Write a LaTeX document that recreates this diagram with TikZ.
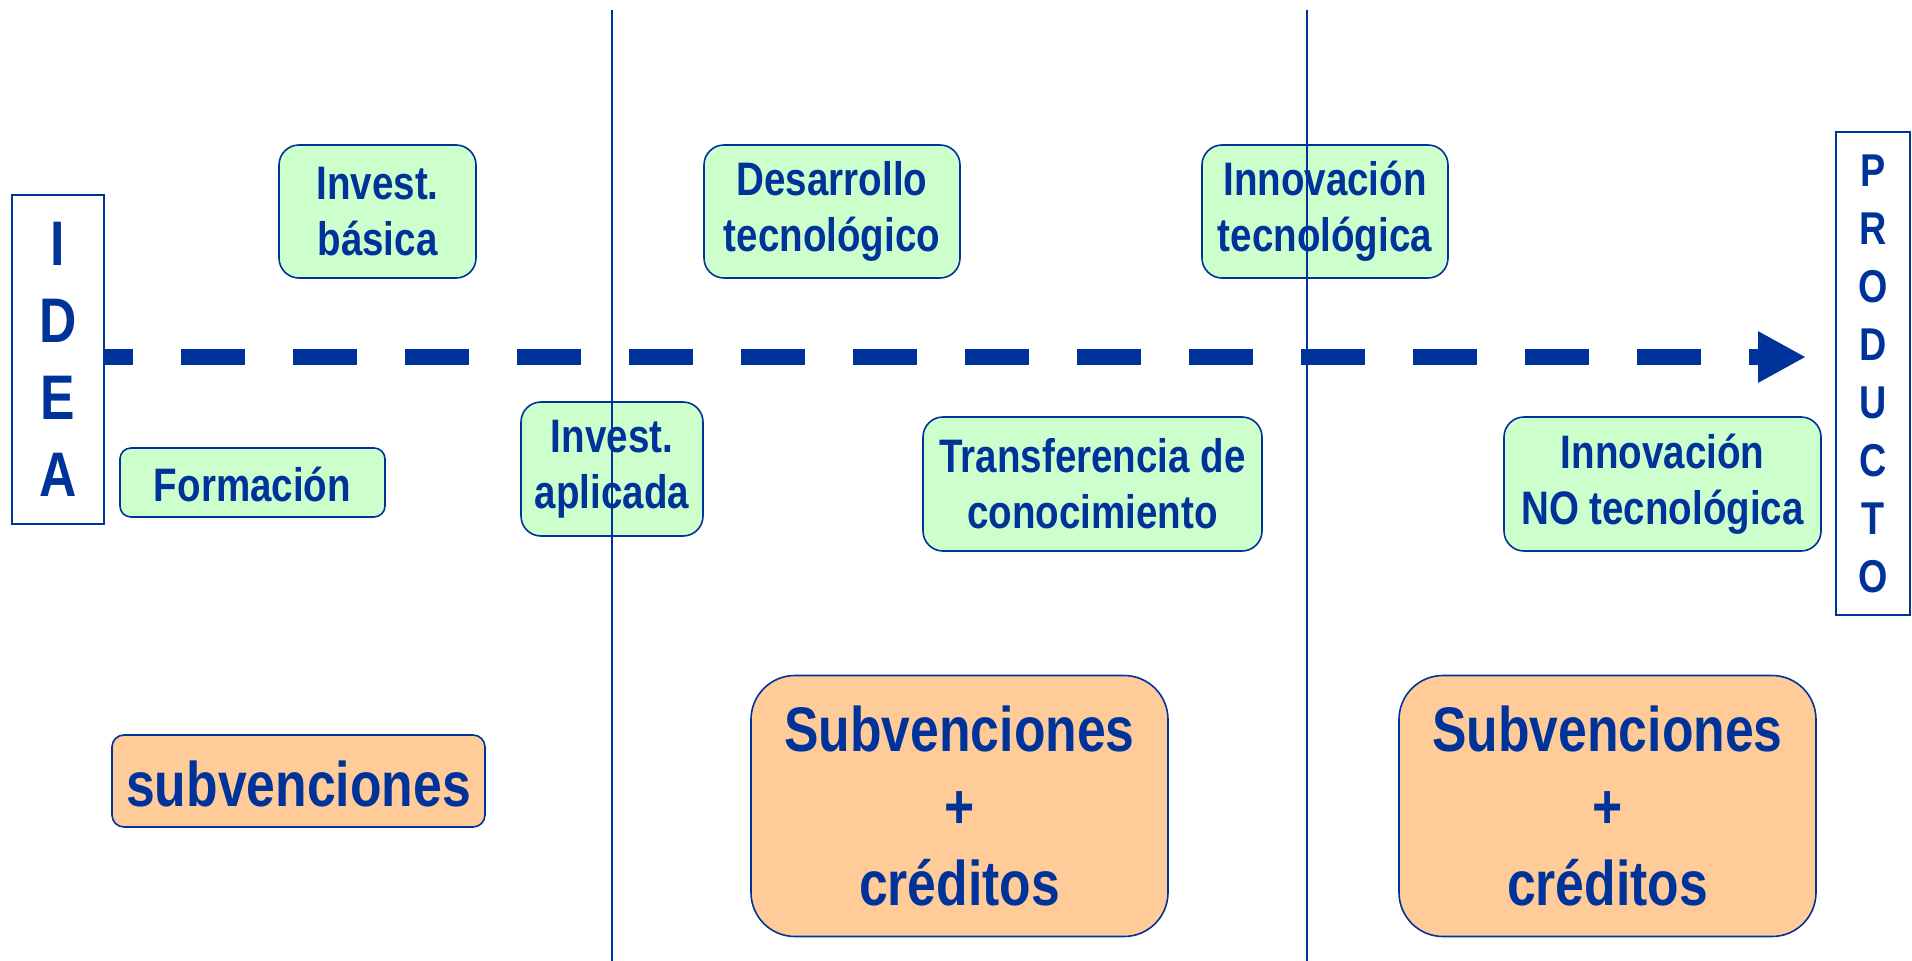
\documentclass[tikz,border=0pt]{standalone}
\usepackage{fontspec}
\setmainfont{Liberation Sans}[FakeStretch=0.82]
\usetikzlibrary{arrows.meta}
\definecolor{dblue}{RGB}{0,51,153}
\definecolor{lgreen}{RGB}{204,255,204}
\definecolor{lorange}{RGB}{255,204,153}
\tikzset{
  gbox/.style={draw=dblue, line width=1.6pt, fill=lgreen, rounded corners=20pt, inner sep=0pt, align=center, text=dblue, font=\bfseries\fontsize{47}{56}\selectfont},
  obox/.style={draw=dblue, line width=1.6pt, fill=lorange, rounded corners=44pt, inner sep=0pt, align=center, text=dblue, font=\bfseries\fontsize{63}{77}\selectfont},
  endbox/.style={draw=dblue, line width=2.2pt, fill=white, inner sep=0pt, align=center, text=dblue},
  sepline/.style={draw=dblue, line width=1.6pt},
}
\begin{document}
\begin{tikzpicture}[x=1pt, y=-1pt]
\useasboundingbox[fill=white] (0,0) rectangle (1912,961);
% end boxes
\node[endbox, minimum width=92, minimum height=329, font=\bfseries\fontsize{63}{77}\selectfont] (idea) at (58,359.5) {I\\D\\E\\A};
\node[endbox, minimum width=74, minimum height=483, font=\bfseries\fontsize{46}{58}\selectfont] (prod) at (1873,373.5) {P\\R\\O\\D\\U\\C\\T\\O};
% green boxes
\node[gbox, minimum width=197, minimum height=133] (ib) at (377.5,211.5) {Invest.\\básica};
\node[gbox, minimum width=256, minimum height=133] (dt) at (832,211.5) {Desarrollo\\tecnológico};
\node[gbox, minimum width=246, minimum height=133] (it) at (1325,211.5) {Innovación\\tecnológica};
\node[gbox, rounded corners=11pt, text height=39pt, minimum width=265, minimum height=69] (fo) at (252.5,482.5) {Formación};
\node[gbox, minimum width=182, minimum height=134] (ia) at (612,469) {Invest.\\aplicada};
\node[gbox, minimum width=339, minimum height=134] (tc) at (1092.5,484) {Transferencia de\\conocimiento};
\node[gbox, minimum width=317, minimum height=134] (ino) at (1662.5,484) {Innovación\\NO tecnológica};
% orange boxes
\node[obox, rounded corners=12pt, text height=52pt, minimum width=373, minimum height=92] (sub) at (298.5,781) {subvenciones};
\node[obox, minimum width=417, minimum height=261] (sc1) at (959.5,806) {Subvenciones\\+\\créditos};
\node[obox, minimum width=417, minimum height=261] (sc2) at (1607.5,806) {Subvenciones\\+\\créditos};
% separator lines
\coordinate (s1t) at (612,10); \coordinate (s1b) at (612,961);
\coordinate (s2t) at (1307,10); \coordinate (s2b) at (1307,961);
\draw[sepline] (s1t) -- (s1b);
\draw[sepline] (s2t) -- (s2b);
% dashed arrow
\coordinate (tip) at (1806,357);
\draw[dblue, line width=16pt, dash pattern=on 64pt off 48pt, dash phase=36pt,
  -{Triangle[length=48pt,width=48pt]}] (idea.east |- tip) -- (tip);
\end{tikzpicture}
\end{document}
